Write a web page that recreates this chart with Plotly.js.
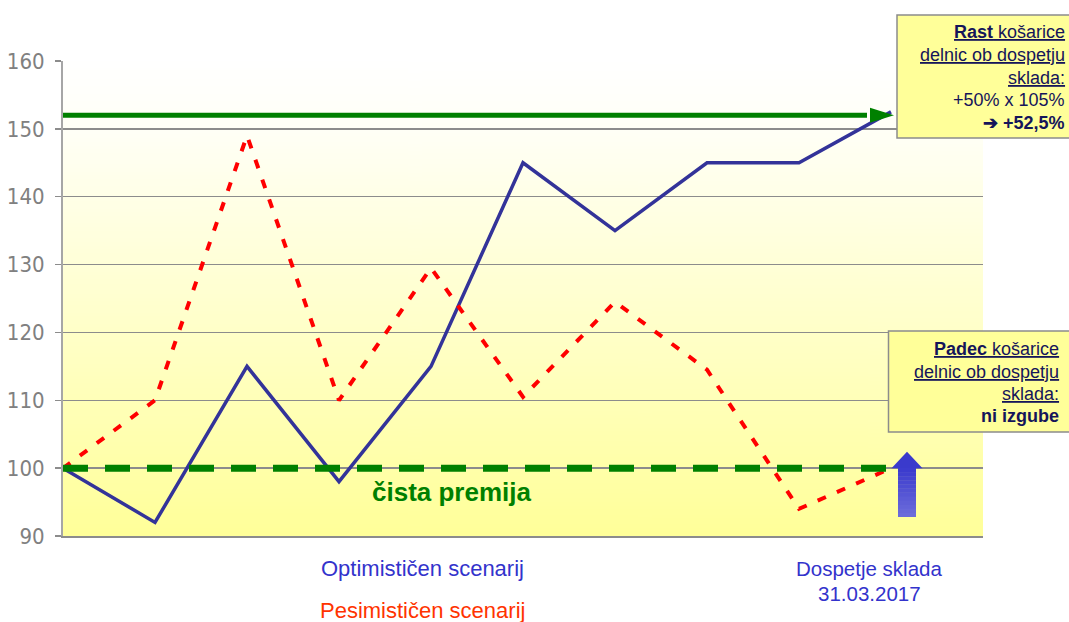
<!DOCTYPE html>
<html>
<head>
<meta charset="utf-8">
<script src="https://cdn.plot.ly/plotly-3.0.1.min.js"></script>
<style>html,body{margin:0;padding:0;background:#fff;}#chart{width:1069px;height:622px;}</style>
</head>
<body>
<div id="chart"></div>
<script>
// ---- data ----
const periods = [0, 1, 2, 3, 4, 5, 6, 7, 8, 9];
const optimistic = [100, 92, 115, 98, 115, 145, 135, 145, 145, 152.5];
const pessimistic = [100, 110, 149, 110, 129.5, 110.5, 124.5, 114.5, 94, 100];
const capLevel = 152;     // rast košarice ob dospetju
const floorLevel = 100;   // čista premija
const yTickVals = [90, 100, 110, 120, 130, 140, 150, 160];
const yTickText = ['90', '100', '110', '120', '130', '140', '150', '160'];

// ---- geometry helpers (styling) ----
const W = 1069, H = 622;
const M = {l: 63, r: 86, t: 61, b: 86};
const plotW = W - M.l - M.r, plotH = H - M.t - M.b;
const xRange = [0, 10], yRange = [90, 160];
const ux = (xRange[1] - xRange[0]) / plotW;  // data units per px
const uy = (yRange[1] - yRange[0]) / plotH;
const px = v => (v - M.l) / plotW;          // pixel -> paper x
const py = v => (H - M.b - v) / plotH;      // pixel -> paper y

// gradient background image
const cv = document.createElement('canvas');
cv.width = 4; cv.height = 256;
const ctx = cv.getContext('2d');
const g = ctx.createLinearGradient(0, 0, 0, 256);
g.addColorStop(0, '#FFFFFF');
g.addColorStop(0.15, '#FFFFF6');
g.addColorStop(1, '#FFFF99');
ctx.fillStyle = g; ctx.fillRect(0, 0, 4, 256);
const bgURL = cv.toDataURL('image/png');

const lastX = periods[periods.length - 1];

const traces = [
  {x: [periods[0], lastX - 24 * ux], y: [capLevel, capLevel], mode: 'lines',
   line: {color: '#008000', width: 5}, hoverinfo: 'skip'},
  {x: periods, y: optimistic, mode: 'lines', line: {color: '#333399', width: 3.5}, hoverinfo: 'skip'},
  {x: periods, y: pessimistic, mode: 'lines', line: {color: '#FF0000', width: 4, dash: '9px,12px'}, hoverinfo: 'skip'},
  {x: [periods[0], lastX + 6 * ux], y: [floorLevel, floorLevel], mode: 'lines',
   line: {color: '#008000', width: 7, dash: '25px,17px'}, hoverinfo: 'skip'}
];

// shapes
const shapes = [];
// green arrowhead
const tipX = lastX + 3 * ux, baseX = lastX - 21 * ux, hh = 7.5 * uy;
shapes.push({type: 'path', xref: 'x', yref: 'y', layer: 'above',
  path: `M ${baseX},${capLevel + hh} L ${tipX},${capLevel} L ${baseX},${capLevel - hh} Z`,
  fillcolor: '#008000', line: {width: 0}});
// blue up arrow with vertical gradient
const ax = lastX + 16 * ux, headHW = 15.5 * ux, shaftHW = 9 * ux;
const tipY = floorLevel + 2.4, headBase = floorLevel, shaftBottom = floorLevel - 7.2;
shapes.push({type: 'path', xref: 'x', yref: 'y', layer: 'above',
  path: `M ${ax - headHW},${headBase} L ${ax},${tipY} L ${ax + headHW},${headBase} Z`,
  fillcolor: '#3A3ACC', line: {width: 0}});
const nSlices = 12;
for (let i = 0; i < nSlices; i++) {
  const t = i / (nSlices - 1);
  const r = Math.round(0x3C + (0x6C - 0x3C) * t), gg = Math.round(0x3C + (0x6C - 0x3C) * t), b = Math.round(0xCE + (0xDA - 0xCE) * t);
  const y0 = headBase - (headBase - shaftBottom) * i / nSlices;
  const y1 = headBase - (headBase - shaftBottom) * (i + 1) / nSlices;
  shapes.push({type: 'rect', xref: 'x', yref: 'y', layer: 'above',
    x0: ax - shaftHW, x1: ax + shaftHW, y0: y1 - (i < nSlices - 1 ? 0.05 : 0), y1: y0 + 0.02,
    fillcolor: `rgb(${r},${gg},${b})`, line: {width: 0}});
}
// info boxes
shapes.push({type: 'rect', xref: 'paper', yref: 'paper', layer: 'above',
  x0: px(897), x1: px(1075), y0: py(138), y1: py(15),
  fillcolor: '#FFFF99', line: {color: '#8C8C8C', width: 1.5}});
shapes.push({type: 'rect', xref: 'paper', yref: 'paper', layer: 'above',
  x0: px(888.5), x1: px(1075), y0: py(432), y1: py(331),
  fillcolor: '#FFFF99', line: {color: '#8C8C8C', width: 1.5}});

const boxFont = {family: 'Liberation Sans, Arial, sans-serif', size: 18, color: '#15155A'};
const ann = [];
function line(text, xr, yc) {
  ann.push({xref: 'paper', yref: 'paper', x: px(xr), y: py(yc), xanchor: 'right', yanchor: 'middle',
    text: text, showarrow: false, font: boxFont, borderpad: 0});
}
line('<u><b>Rast</b> košarice</u>', 1066, 32);
line('<u>delnic ob dospetju</u>', 1066, 55);
line('<u>sklada:</u>', 1066, 77.5);
line('+50% x 105%', 1066, 100);
line('<b>➔ +52,5%</b>', 1066, 122.5);
line('<u><b>Padec</b> košarice</u>', 1060, 349);
line('<u>delnic ob dospetju</u>', 1060, 372);
line('<u>sklada:</u>', 1060, 394);
line('<b>ni izgube</b>', 1060, 416);

const labelFont = 'Liberation Sans, Arial, sans-serif';
ann.push({xref: 'paper', yref: 'paper', x: px(452), y: py(492), xanchor: 'center', yanchor: 'middle',
  text: '<b>čista premija</b>', showarrow: false, font: {family: labelFont, size: 26, color: '#008000'}});
ann.push({xref: 'paper', yref: 'paper', x: px(422), y: py(568), xanchor: 'center', yanchor: 'middle',
  text: 'Optimističen scenarij', showarrow: false, font: {family: labelFont, size: 22, color: '#3333CC'}});
ann.push({xref: 'paper', yref: 'paper', x: px(422), y: py(610), xanchor: 'center', yanchor: 'middle',
  text: 'Pesimističen scenarij', showarrow: false, font: {family: labelFont, size: 22, color: '#FF3300'}});
ann.push({xref: 'paper', yref: 'paper', x: px(869), y: py(568), xanchor: 'center', yanchor: 'middle',
  text: 'Dospetje sklada', showarrow: false, font: {family: labelFont, size: 20.5, color: '#3333CC'}});
ann.push({xref: 'paper', yref: 'paper', x: px(869), y: py(593), xanchor: 'center', yanchor: 'middle',
  text: '31.03.2017', showarrow: false, font: {family: labelFont, size: 20.5, color: '#3333CC'}});

const layout = {
  width: W, height: H,
  margin: M,
  paper_bgcolor: '#FFFFFF',
  plot_bgcolor: 'rgba(0,0,0,0)',
  showlegend: false,
  hovermode: false,
  xaxis: {range: xRange, showgrid: false, zeroline: false, showticklabels: false, ticks: '',
    showline: true, linecolor: '#8C8C8C', linewidth: 1.5, fixedrange: true},
  yaxis: {range: yRange, tickvals: yTickVals, ticktext: yTickText, showgrid: true,
    gridcolor: '#8C8C8C', gridwidth: 1.5, zeroline: false, showline: true, linecolor: '#A6A6A6',
    linewidth: 2, ticks: 'outside', ticklen: 6, tickcolor: '#8C8C8C', tickwidth: 1.5,
    ticklabelstandoff: 6,
    tickfont: {family: 'DejaVu Sans Condensed, DejaVu Sans, sans-serif', size: 22, color: '#808080'},
    fixedrange: true},
  images: [{source: bgURL, xref: 'paper', yref: 'paper', x: 0, y: 1, sizex: 1, sizey: 1,
    xanchor: 'left', yanchor: 'top', sizing: 'stretch', layer: 'below'}],
  shapes: shapes,
  annotations: ann
};

Plotly.newPlot('chart', traces, layout, {displayModeBar: false, staticPlot: true});
</script>
</body>
</html>
